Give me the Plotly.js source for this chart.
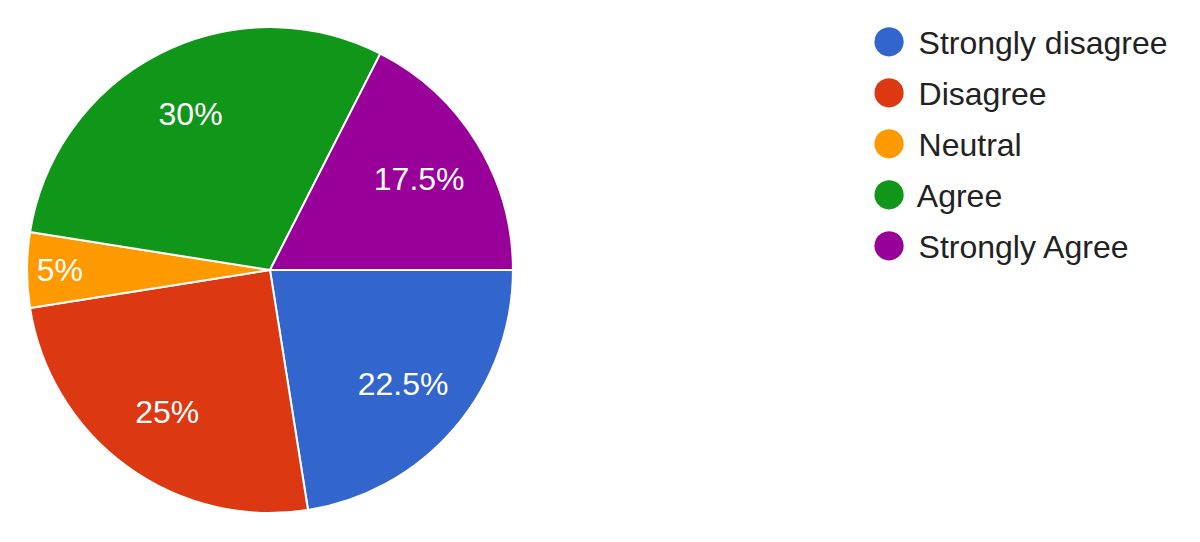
<!DOCTYPE html>
<html>
<head>
<meta charset="utf-8">
<script src="https://cdn.plot.ly/plotly-3.0.1.min.js"></script>
<style>
  html, body { margin: 0; padding: 0; background: #fff; }
  #chart { width: 1200px; height: 542px; }
</style>
</head>
<body>
<div id="chart"></div>
<script>
var labels = ['Strongly disagree', 'Disagree', 'Neutral', 'Agree', 'Strongly Agree'];
var shares = [22.5, 25, 5, 30, 17.5];
var colors = ['#3366cc', '#dc3912', '#ff9900', '#109618', '#990099'];

var pieDomain = { x: [0.0225, 0.4275], y: [0.0535, 0.95] };
var labelFont = { color: '#ffffff', size: 32, family: 'Liberation Sans, Arial, sans-serif' };

// the coloured slices
var pieTrace = {
  type: 'pie',
  labels: labels,
  values: shares,
  sort: false,
  direction: 'clockwise',
  rotation: 90,
  marker: { colors: colors, line: { color: '#ffffff', width: 2 } },
  textinfo: 'none',
  showlegend: false,
  domain: pieDomain,
  hoverinfo: 'label+percent'
};

// same slices, see-through ring on top: puts the % labels further out like google charts
var labelRing = {
  type: 'pie',
  labels: labels,
  values: shares,
  sort: false,
  direction: 'clockwise',
  rotation: 90,
  hole: 0.44,
  marker: { colors: colors.map(function() { return 'rgba(0,0,0,0)'; }), line: { width: 0 } },
  texttemplate: '%{value}%',
  textposition: 'inside',
  insidetextorientation: 'horizontal',
  insidetextfont: labelFont,
  showlegend: false,
  domain: pieDomain,
  hoverinfo: 'skip'
};

// legend-only traces so the legend shows big round markers
var legendTraces = labels.map(function(label, i) {
  return {
    type: 'scatter',
    mode: 'none',
    x: [null],
    y: [null],
    name: '<span style="color:' + colors[i] + ';font-size:68px;baseline-shift:-7px">●</span> ' + label,
    legendgroup: 'g' + i,
    hoverinfo: 'skip'
  };
});

var layout = {
  width: 1200,
  height: 542,
  margin: { l: 0, r: 0, t: 0, b: 0 },
  paper_bgcolor: '#ffffff',
  plot_bgcolor: '#ffffff',
  xaxis: { visible: false },
  yaxis: { visible: false },
  showlegend: true,
  legend: {
    x: 0.6905,
    y: 0.9745,
    xanchor: 'left',
    yanchor: 'top',
    font: { family: 'Liberation Sans, Arial, sans-serif', size: 32, color: '#222222' },
    tracegroupgap: 6.5,
    itemwidth: 30,
    bgcolor: 'rgba(0,0,0,0)'
  }
};

Plotly.newPlot('chart', [pieTrace, labelRing].concat(legendTraces), layout, { displayModeBar: false, staticPlot: true });
</script>
</body>
</html>
